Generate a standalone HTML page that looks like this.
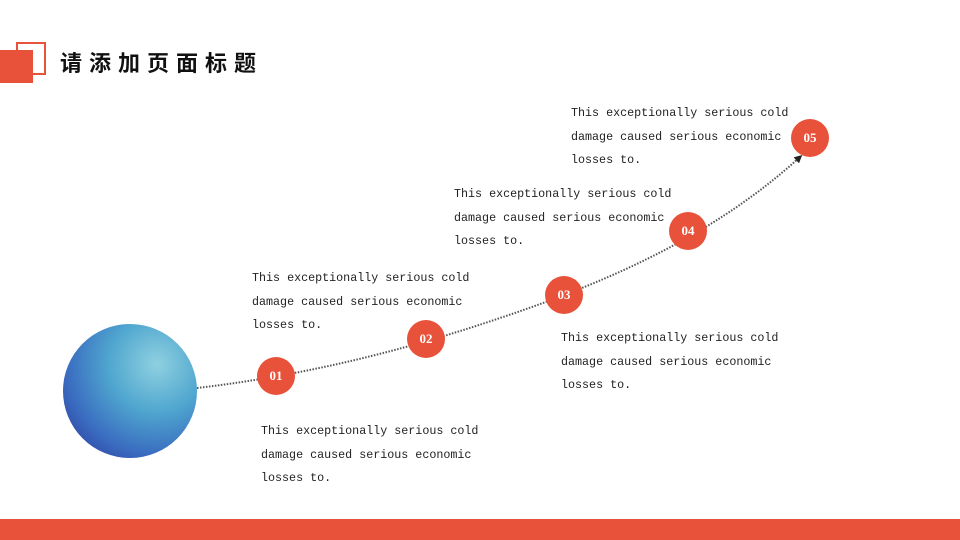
<!DOCTYPE html>
<html><head><meta charset="utf-8"><style>
html,body{margin:0;padding:0;}
body{width:960px;height:540px;position:relative;overflow:hidden;background:#fff;font-family:"Liberation Sans","Noto Sans CJK SC",sans-serif;}
.t{position:absolute;font-family:"Liberation Mono","Noto Sans CJK SC",monospace;font-size:11.7px;line-height:23.5px;color:#222;white-space:pre;}
.n{position:absolute;width:38px;height:38px;border-radius:50%;background:#e8523a;color:#fff;font-family:"Liberation Serif",serif;font-weight:bold;font-size:13px;line-height:38px;text-align:center;}
</style></head><body>
<div style="position:absolute;left:16px;top:42px;width:26px;height:29px;border:2px solid #e8523a;"></div>
<div style="position:absolute;left:0;top:50px;width:33px;height:33px;background:#e8523a;"></div>
<div style="position:absolute;left:60px;top:48px;font-size:22px;font-weight:bold;letter-spacing:7px;color:#111;line-height:32px;">请添加页面标题</div>
<div style="position:absolute;left:0;top:519px;width:960px;height:21px;background:#e8523a;"></div>
<svg style="position:absolute;left:0;top:0" width="960" height="540">
<defs>
<radialGradient id="g" cx="0.7" cy="0.3" r="0.9">
<stop offset="0" stop-color="#8fd0e0"/><stop offset="0.4" stop-color="#4fa6cf"/><stop offset="0.75" stop-color="#3a6cc0"/><stop offset="1" stop-color="#2d3e9e"/>
</radialGradient>
<marker id="a" markerWidth="8" markerHeight="8" refX="5" refY="4" orient="auto" markerUnits="userSpaceOnUse"><path d="M0,0 L8,4 L0,8 Z" fill="#222"/></marker>
</defs>
<circle cx="130" cy="391" r="67" fill="url(#g)"/>
<path d="M197,388 C300,376 400,352 500,318 C620,278 720,230 800,157" fill="none" stroke="#555" stroke-width="2" stroke-dasharray="1.5 1.5" marker-end="url(#a)"/>
</svg>
<div class="n" style="left:257px;top:357px">01</div>
<div class="n" style="left:407px;top:320px">02</div>
<div class="n" style="left:545px;top:276px">03</div>
<div class="n" style="left:669px;top:212px">04</div>
<div class="n" style="left:791px;top:119px">05</div>
<div class="t" style="left:571px;top:102px">This exceptionally serious cold
damage caused serious economic
losses to.</div>
<div class="t" style="left:454px;top:183px">This exceptionally serious cold
damage caused serious economic
losses to.</div>
<div class="t" style="left:252px;top:267px">This exceptionally serious cold
damage caused serious economic
losses to.</div>
<div class="t" style="left:561px;top:327px">This exceptionally serious cold
damage caused serious economic
losses to.</div>
<div class="t" style="left:261px;top:420px">This exceptionally serious cold
damage caused serious economic
losses to.</div>
</body></html>
